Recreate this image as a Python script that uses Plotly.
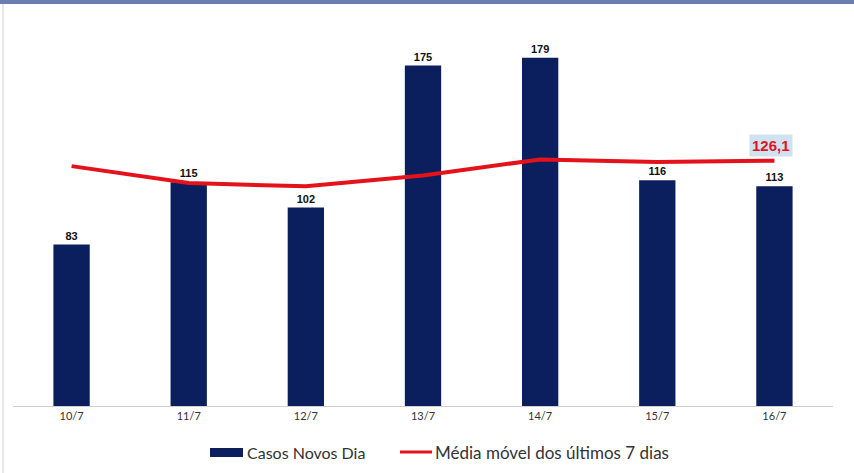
import plotly.graph_objects as go

categories = ["10/7", "11/7", "12/7", "13/7", "14/7", "15/7", "16/7"]
casos = [83, 115, 102, 175, 179, 116, 113]
media = [123.3, 114.6, 112.9, 118.5, 126.7, 125.4, 126.1]
media_label = "126,1"
legend_names = ["Casos Novos Dia", "Média móvel dos últimos 7 dias"]

BAR = "#0b1f5e"
RED = "#e3121b"
font_fam = "Lato, Liberation Sans, Arial, sans-serif"

W, H = 854, 473
ML, MR, MT, MB = 13, 21, 13, 67
PW, PH = W - ML - MR, H - MT - MB


def px(x):
    return (x - ML) / PW


def py(y):
    return (H - MB - y) / PH


fig = go.Figure()
fig.add_trace(go.Bar(
    x=categories, y=casos, name=legend_names[0],
    marker=dict(color=BAR, line=dict(width=0)),
    width=0.31,
    text=[str(v) for v in casos], textposition="outside",
    textfont=dict(family="Liberation Sans, Arial, sans-serif", size=11, color="#111111"),
    texttemplate="<b>%{text}</b>", cliponaxis=False,
))
fig.add_trace(go.Scatter(
    x=categories, y=media, name=legend_names[1],
    mode="lines", line=dict(color=RED, width=4),
))
fig.add_annotation(
    x=categories[-1], y=media[-1], text="<b>" + media_label + "</b>",
    showarrow=False, yshift=15, xshift=-3,
    font=dict(family="Liberation Sans, Arial, sans-serif", size=15, color=RED),
    bgcolor="#cfe2f1", borderpad=2,
)
# top frame line
fig.add_shape(type="line", xref="paper", yref="paper", x0=px(0), x1=px(W), y0=py(2), y1=py(2),
              line=dict(color="#6a7fb0", width=4))
# faint left frame line
fig.add_shape(type="line", xref="paper", yref="paper", x0=px(3), x1=px(3), y0=py(4), y1=py(H),
              line=dict(color="#e4e8ee", width=2))

# custom legend
fig.add_shape(type="rect", xref="paper", yref="paper", x0=px(210), x1=px(243),
              y0=py(457), y1=py(448), fillcolor=BAR, line=dict(width=0))
fig.add_shape(type="line", xref="paper", yref="paper", x0=px(400), x1=px(432),
              y0=py(452), y1=py(452), line=dict(color=RED, width=3))
fig.add_annotation(x=px(245), y=py(452), xref="paper", yref="paper", text=legend_names[0],
                   showarrow=False, xanchor="left", yanchor="middle",
                   font=dict(family=font_fam, size=16, color="#333333"))
fig.add_annotation(x=px(433), y=py(452), xref="paper", yref="paper", text=legend_names[1],
                   showarrow=False, xanchor="left", yanchor="middle",
                   font=dict(family=font_fam, size=17, color="#333333"))

fig.update_layout(
    width=W, height=H,
    margin=dict(l=ML, r=MR, t=MT, b=MB, autoexpand=False),
    paper_bgcolor="white", plot_bgcolor="white",
    showlegend=False,
    xaxis=dict(showline=True, linecolor="#d0d0d0", linewidth=1, ticks="",
               tickfont=dict(family=font_fam, size=11, color="#333333"), showgrid=False),
    yaxis=dict(range=[0, 202], visible=False, showgrid=False),
)
fig.write_html("out.html", config={"displayModeBar": False},
               post_script="document.body.style.margin='0px';")
